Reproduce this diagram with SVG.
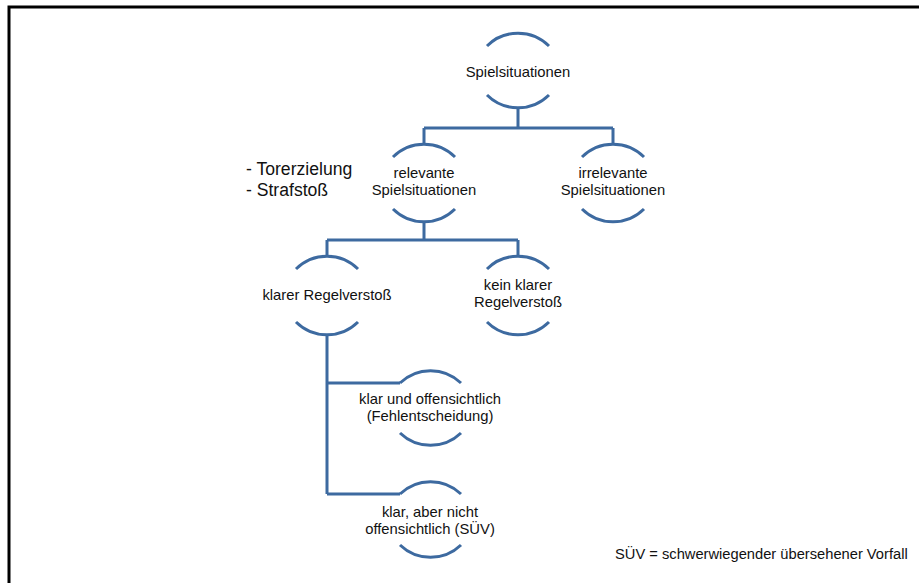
<svg xmlns="http://www.w3.org/2000/svg" width="919" height="583" viewBox="0 0 919 583">
<style>
.arc{fill:none;stroke:#3d6aa0;stroke-width:3}
.con{fill:none;stroke:#3d6aa0;stroke-width:3}
text{font-family:"Liberation Sans",Arial,sans-serif;fill:#111;text-anchor:middle}
.n{font-size:14.8px}
.big{font-size:17.6px;text-anchor:start}
.note{font-size:14.7px;text-anchor:start}
</style>
<rect x="9" y="7" width="930" height="600" fill="#fff" stroke="#000" stroke-width="3"/>
<g id="connectors">
<path class="con" d="M518 107V128M424 128H613M424 128V144M613 128V144"/>
<path class="con" d="M424 222V240M327 240H518M327 240V255M518 240V255"/>
<path class="con" d="M327 336V494M327 383H400M327 494H400"/>
</g>
<g id="n1"><path class="arc" d="M487 46A44 44 0 0 1 549 46M487 95A44 44 0 0 0 549 95"/><text class="n" x="518" y="77">Spielsituationen</text></g>
<g id="n2"><path class="arc" d="M393 157A44 44 0 0 1 455 157M393 209A44 44 0 0 0 455 209"/><text class="n" x="424" y="178">relevante</text><text class="n" x="424" y="195">Spielsituationen</text></g>
<g id="n3"><path class="arc" d="M582 157A44 44 0 0 1 644 157M582 209A44 44 0 0 0 644 209"/><text class="n" x="613" y="178">irrelevante</text><text class="n" x="613" y="195">Spielsituationen</text></g>
<g id="n4"><path class="arc" d="M296 269A44 44 0 0 1 358 269M296 322A44 44 0 0 0 358 322"/><text class="n" x="327" y="300">klarer Regelverstoß</text></g>
<g id="n5"><path class="arc" d="M487 269A44 44 0 0 1 549 269M487 322A44 44 0 0 0 549 322"/><text class="n" x="518" y="290">kein klarer</text><text class="n" x="518" y="307">Regelverstoß</text></g>
<g id="n6"><path class="arc" d="M400 383A44 44 0 0 1 461 383M400 433A44 44 0 0 0 461 433"/><text class="n" x="430" y="404">klar und offensichtlich</text><text class="n" x="430" y="421">(Fehlentscheidung)</text></g>
<g id="n7"><path class="arc" d="M400 494A44 44 0 0 1 461 494M400 545A44 44 0 0 0 461 545"/><text class="n" x="430" y="517">klar, aber nicht</text><text class="n" x="430" y="534">offensichtlich (SÜV)</text></g>
<g id="notes"><text class="big" x="246" y="175">- Torerzielung</text><text class="big" x="246" y="196">- Strafstoß</text>
<text class="note" x="615" y="559">SÜV = schwerwiegender übersehener Vorfall</text></g>
</svg>
